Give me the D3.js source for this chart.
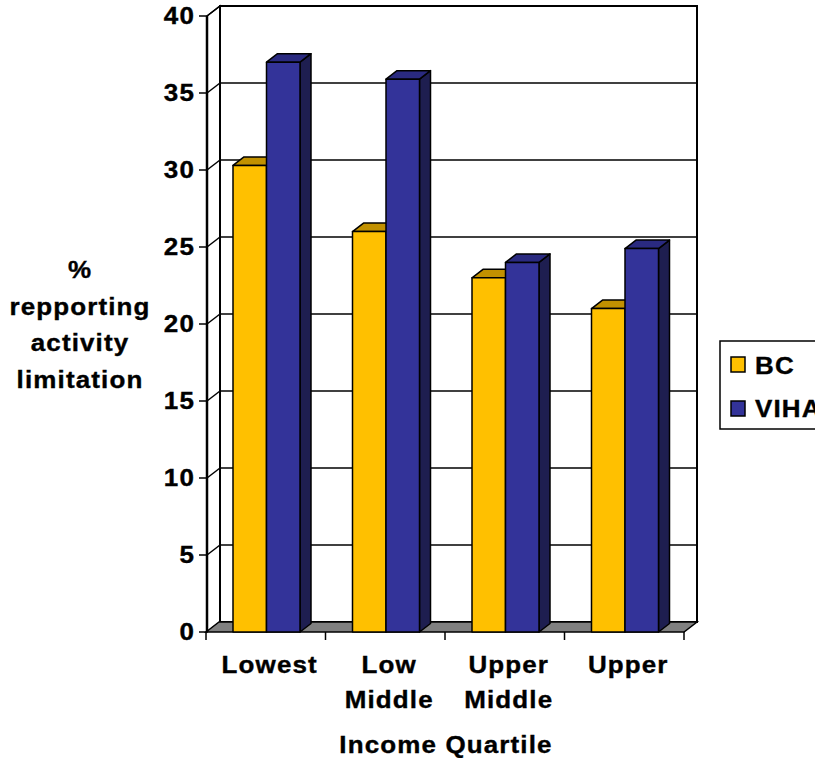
<!DOCTYPE html>
<head>
    <title>Activity limitation by income quartile</title>
    <meta charset="utf-8">
    <script src="https://d3js.org/d3.v7.min.js"></script>

    <style>
        body {
          margin: 0;
          background: white;
        }
        text {
          font-family: "Liberation Sans", Arial, sans-serif;
          font-weight: bold;
          font-size: 23px;
          letter-spacing: 1px;
          fill: black;
          stroke: black;
          stroke-width: 0.35px;
        }
    </style>
    <script>
        // chart data
        var categories = ["Lowest", "Low Middle", "Upper Middle", "Upper"];
        var categoryLines = [["Lowest"], ["Low", "Middle"], ["Upper", "Middle"], ["Upper"]];
        var seriesNames = ["BC", "VIHA"];
        var bcValues = [30.3, 26.0, 23.0, 21.0];
        var vihaValues = [37.0, 35.9, 24.0, 24.9];
        var yTicks = [0, 5, 10, 15, 20, 25, 30, 35, 40];
        var yTitleLines = ["%", "repporting", "activity", "limitation"];
        var xTitle = "Income Quartile";

        // the original text is a little wider than Arial, stretch it
        var stretch = 1.13;

        function addText(parent, x, y, str, anchor) {
            return parent.append("text")
                .attr("transform", "translate(" + x + "," + y + ") scale(" + stretch + ",1)")
                .attr("text-anchor", anchor || "start")
                .text(str);
        }

        function draw() {
            // setting up the dimensions
            var width = 815,
                height = 758,
                depthX = 13,   // 3d offset of the back wall
                depthY = -10,
                barDX = 11,    // 3d offset of a bar
                barDY = -8.5;

            var colors = {
                BC:   {front: "#FFC000", top: "#C29100", side: "#806000"},
                VIHA: {front: "#333399", top: "#2A2A80", side: "#1E1E50"}
            };

            var svg = d3.select("body")
              .append("svg")
                .attr("width", width)
                .attr("height", height);

            // scales, front plane
            var y = d3.scaleLinear().domain([0, 40]).range([632, 16]);
            var x0 = d3.scaleBand().domain(categories).range([206, 684]);
            var x1 = d3.scaleBand().domain(seriesNames).range([27, 94]);

            var left = x0.range()[0] + 1,
                right = x0.range()[1];

            // side wall
            svg.append("polygon")
                .attr("points", [[left, y(40)], [left + depthX, y(40) + depthY],
                                 [left + depthX, y(0) + depthY], [left, y(0)]].join(" "))
                .attr("fill", "white")
                .attr("stroke", "black")
                .attr("stroke-width", 1.5);

            // back wall
            svg.append("rect")
                .attr("x", left + depthX)
                .attr("y", y(40) + depthY)
                .attr("width", right - left)
                .attr("height", y(0) - y(40))
                .attr("fill", "white")
                .attr("stroke", "black")
                .attr("stroke-width", 2);

            // gridlines on back and side walls
            var grid = svg.append("g");
            yTicks.forEach(function(t) {
                grid.append("line")
                    .attr("x1", left + depthX).attr("x2", right + depthX)
                    .attr("y1", y(t) + depthY).attr("y2", y(t) + depthY)
                    .attr("stroke", "black").attr("stroke-width", 1.5);
                grid.append("line")
                    .attr("x1", left).attr("x2", left + depthX)
                    .attr("y1", y(t)).attr("y2", y(t) + depthY)
                    .attr("stroke", "black").attr("stroke-width", 1.5);
            });

            // floor
            svg.append("polygon")
                .attr("points", [[x0.range()[0], y(0)], [x0.range()[0] + depthX, y(0) + depthY],
                                 [right + depthX, y(0) + depthY], [right, y(0)]].join(" "))
                .attr("fill", "#808080")
                .attr("stroke", "black")
                .attr("stroke-width", 1.5);

            // front axis line
            svg.append("line")
                .attr("x1", left).attr("x2", left)
                .attr("y1", y(40)).attr("y2", y(0))
                .attr("stroke", "black").attr("stroke-width", 2.5);

            // y ticks and labels
            var yAxis = svg.append("g");
            yTicks.forEach(function(t) {
                yAxis.append("line")
                    .attr("x1", left - 8).attr("x2", left)
                    .attr("y1", y(t)).attr("y2", y(t))
                    .attr("stroke", "black").attr("stroke-width", 1.5);
                addText(yAxis, left - 12, y(t) + 8, t, "end");
            });

            // x ticks
            var xTickPos = categories.map(function(c) { return x0(c); }).concat([right]);
            xTickPos.forEach(function(p) {
                svg.append("line")
                    .attr("x1", p).attr("x2", p)
                    .attr("y1", y(0)).attr("y2", y(0) + 8)
                    .attr("stroke", "black").attr("stroke-width", 1.5);
            });

            // bars
            var bars = [];
            categories.forEach(function(c, i) {
                bars.push({cat: c, series: "BC", value: bcValues[i]});
                bars.push({cat: c, series: "VIHA", value: vihaValues[i]});
            });

            bars.forEach(function(d) {
                var bx = x0(d.cat) + x1(d.series),
                    bw = x1.bandwidth(),
                    top = y(d.value),
                    base = y(0),
                    col = colors[d.series];
                var g = svg.append("g")
                    .attr("stroke", "black")
                    .attr("stroke-width", 1.5)
                    .attr("stroke-linejoin", "round");
                // side face
                g.append("polygon")
                    .attr("points", [[bx + bw, top], [bx + bw + barDX, top + barDY],
                                     [bx + bw + barDX, base + barDY], [bx + bw, base]].join(" "))
                    .attr("fill", col.side);
                // top face
                g.append("polygon")
                    .attr("points", [[bx, top], [bx + barDX, top + barDY],
                                     [bx + bw + barDX, top + barDY], [bx + bw, top]].join(" "))
                    .attr("fill", col.top);
                // front face
                g.append("rect")
                    .attr("x", bx).attr("y", top)
                    .attr("width", bw).attr("height", base - top)
                    .attr("fill", col.front);
            });

            // category labels
            categoryLines.forEach(function(lines, i) {
                var cx = x0(categories[i]) + x0.bandwidth() / 2 + 4;
                lines.forEach(function(l, j) {
                    addText(svg, cx, 673 + j * 35, l, "middle");
                });
            });

            // axis titles
            addText(svg, 446, 753, xTitle, "middle");

            yTitleLines.forEach(function(l, j) {
                addText(svg, 80, 278 + j * 36.5, l, "middle");
            });

            // legend
            var legend = svg.append("g");
            legend.append("rect")
                .attr("x", 720).attr("y", 341)
                .attr("width", 120).attr("height", 88)
                .attr("fill", "white")
                .attr("stroke", "black")
                .attr("stroke-width", 1.5);
            seriesNames.forEach(function(s, i) {
                legend.append("rect")
                    .attr("x", 731).attr("y", 357 + i * 44)
                    .attr("width", 14).attr("height", 15)
                    .attr("fill", colors[s].front)
                    .attr("stroke", "black")
                    .attr("stroke-width", 1.5);
                addText(legend, 755, 374 + i * 43, s);
            });
        }
    </script>
</head>

<body>
    <script type="text/javascript">
        draw();
    </script>
</body>
